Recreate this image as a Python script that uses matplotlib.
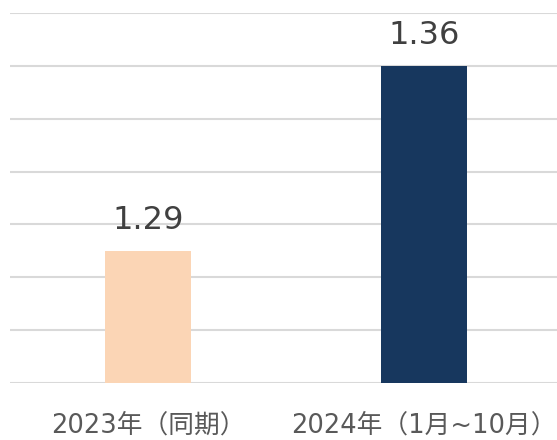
import matplotlib.pyplot as plt
import numpy as np

categories = ["2023年（同期）", "2024年（1月~10月）"]
values = [1.29, 1.36]
colors = ["#fbd5b5", "#17375e"]

plt.rcParams['font.family'] = ['DejaVu Sans', 'Noto Sans CJK JP']

fig = plt.figure(figsize=(5.57, 4.40), dpi=100)
W, H = 557, 440
# axes: left 10px, right ~562px, top 13px, bottom 383px
ax = fig.add_axes([10 / W, (H - 383) / H, 552 / W, (383 - 13) / H])

x = np.arange(len(categories))
bars = ax.bar(x, values, width=0.315, color=colors, zorder=3)

ax.set_xlim(-0.5, 1.5)
ax.set_ylim(1.24, 1.38)
ax.set_yticks(np.arange(1.24, 1.381, 0.02))
ax.yaxis.grid(True, color="#d9d9d9", linewidth=1.5, zorder=0)
ax.set_yticklabels([])
ax.tick_params(axis='y', length=0)
ax.tick_params(axis='x', length=0, pad=21)
for s in ax.spines.values():
    s.set_visible(False)

ax.set_xticks(x)
ax.set_xticklabels(categories, fontsize=18.5, color="#595959")

for xi, v in zip(x, values):
    ax.annotate(f"{v:.2f}", (xi, v), xytext=(0, 16), textcoords="offset points",
                ha="center", va="baseline", fontsize=23, color="#404040",
                annotation_clip=False)

fig.savefig("out.png", dpi=100)
